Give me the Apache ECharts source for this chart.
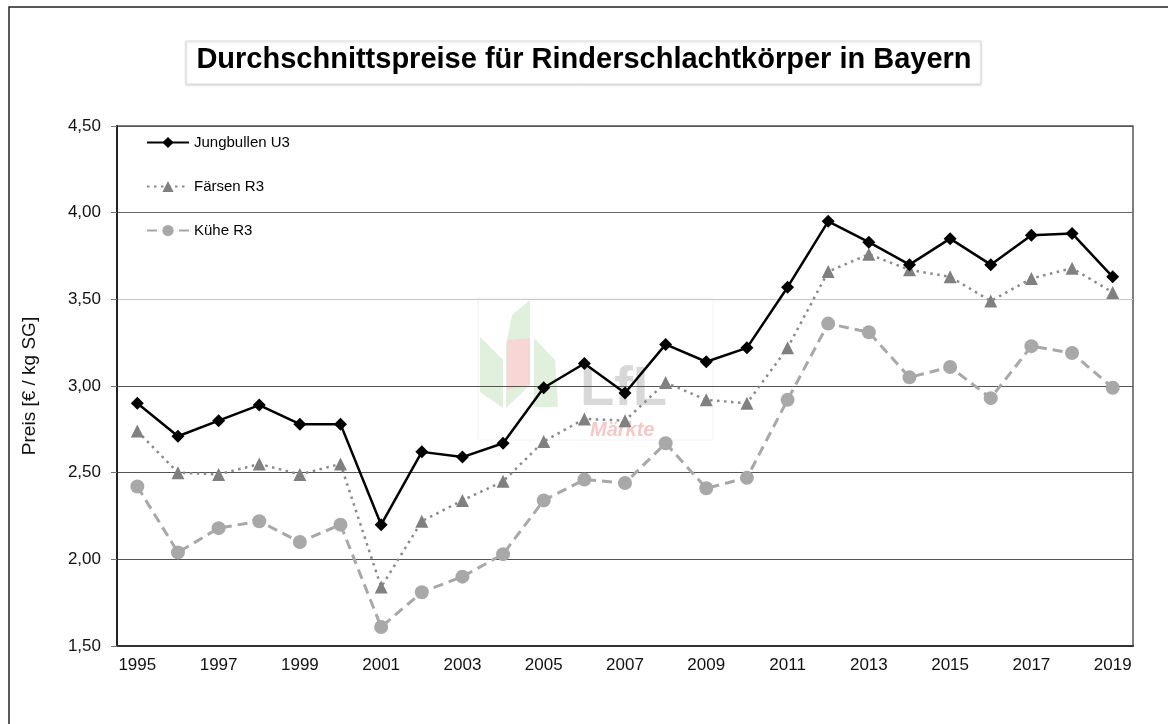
<!DOCTYPE html>
<html>
<head>
<meta charset="utf-8">
<script src="https://cdn.jsdelivr.net/npm/echarts@6/dist/echarts.min.js"></script>
<style>
  html, body { margin: 0; padding: 0; background: #fff; }
  #chart { width: 1168px; height: 724px; }
</style>
</head>
<body>
<div id="chart"></div>
<script>
// Jahre und Preise (€ / kg SG)
const years = ['1995','1996','1997','1998','1999','2000','2001','2002','2003','2004','2005','2006',
  '2007','2008','2009','2010','2011','2012','2013','2014','2015','2016','2017','2018','2019'];
const jungbullen = [2.90,2.71,2.80,2.89,2.78,2.78,2.20,2.62,2.59,2.67,2.99,3.13,
  2.96,3.24,3.14,3.22,3.57,3.95,3.83,3.70,3.85,3.70,3.87,3.88,3.63];
const faersen = [2.74,2.50,2.49,2.55,2.49,2.55,1.84,2.22,2.34,2.45,2.68,2.81,
  2.80,3.02,2.92,2.90,3.22,3.66,3.76,3.67,3.63,3.49,3.62,3.68,3.54];
const kuehe = [2.42,2.04,2.18,2.22,2.10,2.20,1.61,1.81,1.90,2.03,2.34,2.46,
  2.44,2.67,2.41,2.47,2.92,3.36,3.31,3.05,3.11,2.93,3.23,3.19,2.99];

const font = 'Liberation Sans, Arial, sans-serif';

let chart = echarts.init(document.getElementById('chart'));

// Gitterlinien: 1,50 ... 4,50 (3,50 heller)
const splitColors = ['#555','#555','#555','#555','#c8c8c8','#666','#555'];

let option = {
  backgroundColor: '#fff',
  animation: false,
  textStyle: { fontFamily: font },
  graphic: [
    // äußerer Rahmen
    { type: 'rect', z: -10, shape: { x: 9, y: 7, width: 1200, height: 800 },
      style: { fill: '#fff', stroke: '#222', lineWidth: 1.5 } },
    // Titelkasten
    { type: 'rect', z: 1, shape: { x: 186, y: 41, width: 795, height: 43 },
      style: { fill: '#fff', stroke: '#ddd', lineWidth: 1, shadowColor: 'rgba(0,0,0,0.15)', shadowBlur: 2, shadowOffsetY: 1 } },
    { type: 'text', z: 2, left: 'center', top: 45,
      style: { text: 'Durchschnittspreise für Rinderschlachtkörper in Bayern',
        font: 'bold 29px Liberation Sans, Arial', fill: '#000' } },
    // Wasserzeichen LfL
    { type: 'group', z: 0, silent: true, children: [
      { type: 'rect', shape: { x: 478, y: 298, width: 235, height: 142 },
        style: { fill: 'rgba(255,255,255,0)', stroke: '#f2f2f2', lineWidth: 1 } },
      { type: 'polygon', shape: { points: [[480,337],[503,360],[503,408],[480,392]] },
        style: { fill: '#e0f0dc' } },
      { type: 'polygon', shape: { points: [[506,345],[512,315],[530,300],[530,385],[506,408]] },
        style: { fill: '#e0f0dc' } },
      { type: 'polygon', shape: { points: [[507,340],[530,338],[530,385],[507,390]] },
        style: { fill: '#f8d6d6' } },
      { type: 'polygon', shape: { points: [[534,338],[555,360],[558,407],[534,407]] },
        style: { fill: '#e0f0dc' } },
      { type: 'text', style: { x: 580, y: 362, text: 'LfL', font: 'bold 56px Liberation Sans, Arial', fill: '#d8d8d8' } },
      { type: 'text', style: { x: 590, y: 420, text: 'Märkte', font: 'italic bold 20px Liberation Sans, Arial', fill: '#f6c8c8' } }
    ] }
  ],
  legend: {
    orient: 'vertical',
    left: 146,
    top: 135,
    padding: 0,
    itemWidth: 42,
    itemHeight: 14,
    itemGap: 29,
    textStyle: { fontSize: 15, lineHeight: 14, color: '#000', fontFamily: font },
    data: ['Jungbullen U3', 'Färsen R3', 'Kühe R3']
  },
  grid: { left: 117, right: 35, top: 126, bottom: 78, show: true, borderColor: '#555', borderWidth: 1.5 },
  xAxis: {
    type: 'category',
    data: years,
    boundaryGap: true,
    axisLine: { lineStyle: { color: '#333', width: 2 } },
    axisTick: { interval: 0, length: 6, lineStyle: { color: '#555' } },
    axisLabel: { interval: 1, color: '#111', fontSize: 17, margin: 11, fontFamily: font },
    splitLine: { show: false }
  },
  yAxis: {
    type: 'value',
    min: 1.5,
    max: 4.5,
    interval: 0.5,
    name: 'Preis [€ / kg SG]',
    nameLocation: 'middle',
    nameGap: 78,
    nameTextStyle: { fontSize: 19, color: '#111', fontFamily: font },
    axisLine: { show: true, lineStyle: { color: '#222', width: 2 } },
    axisTick: { show: true, length: 6, lineStyle: { color: '#777' } },
    axisLabel: { color: '#111', fontSize: 17, margin: 16, fontFamily: font,
      formatter: v => v.toFixed(2).replace('.', ',') },
    splitLine: { show: true, lineStyle: { color: splitColors, width: 1.2 } }
  },
  series: [
    {
      name: 'Jungbullen U3',
      type: 'line',
      data: jungbullen,
      z: 5,
      symbol: 'diamond',
      symbolSize: 13,
      itemStyle: { color: '#000' },
      lineStyle: { color: '#000', width: 2.5 }
    },
    {
      name: 'Färsen R3',
      type: 'line',
      data: faersen,
      z: 4,
      symbol: 'triangle',
      symbolSize: 13,
      itemStyle: { color: '#808080' },
      lineStyle: { color: '#8a8a8a', width: 2.5, type: [2.5, 4.5] }
    },
    {
      name: 'Kühe R3',
      type: 'line',
      data: kuehe,
      z: 3,
      symbol: 'circle',
      symbolSize: 14,
      itemStyle: { color: '#a8a8a8' },
      lineStyle: { color: '#a8a8a8', width: 3, type: [10, 6] }
    }
  ]
};

chart.setOption(option);
</script>
</body>
</html>
